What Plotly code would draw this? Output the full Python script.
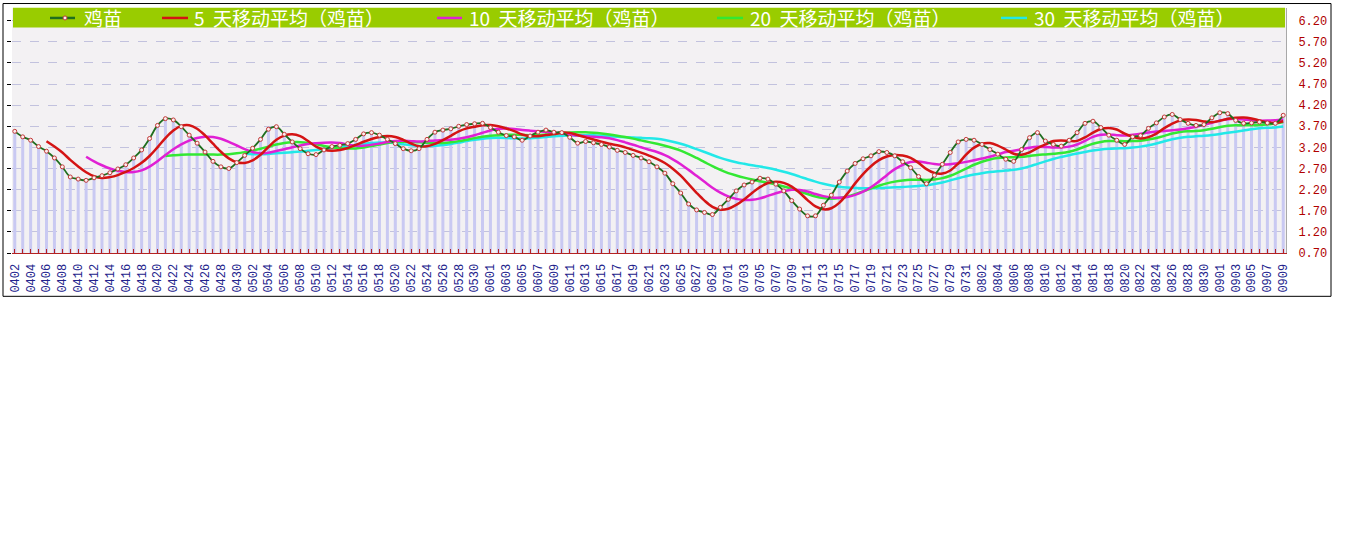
import pandas as pd
import plotly.graph_objects as go

# ---------------- data ----------------
dates = pd.date_range("2021-04-02", "2021-09-09", freq="D")
categories = [d.strftime("%m%d") for d in dates]

price = [
    3.58, 3.45, 3.37, 3.22, 3.11, 2.95, 2.74, 2.50, 2.45, 2.42,
    2.48, 2.53, 2.60, 2.69, 2.79, 2.95, 3.14, 3.41, 3.72, 3.88,
    3.85, 3.69, 3.49, 3.30, 3.09, 2.87, 2.74, 2.70, 2.84, 3.01,
    3.18, 3.39, 3.63, 3.69, 3.51, 3.33, 3.17, 3.05, 3.03, 3.14,
    3.22, 3.25, 3.29, 3.39, 3.52, 3.55, 3.49, 3.39, 3.29, 3.17,
    3.12, 3.17, 3.39, 3.56, 3.61, 3.64, 3.70, 3.74, 3.76, 3.77,
    3.67, 3.56, 3.48, 3.45, 3.37, 3.47, 3.56, 3.61, 3.56, 3.55,
    3.44, 3.30, 3.34, 3.31, 3.27, 3.21, 3.13, 3.08, 3.01, 2.95,
    2.86, 2.74, 2.59, 2.34, 2.12, 1.86, 1.72, 1.66, 1.61, 1.78,
    1.97, 2.17, 2.31, 2.38, 2.47, 2.45, 2.33, 2.17, 1.94, 1.74,
    1.58, 1.58, 1.83, 2.07, 2.38, 2.64, 2.82, 2.93, 3.00, 3.10,
    3.08, 3.00, 2.86, 2.72, 2.51, 2.34, 2.54, 2.80, 3.08, 3.33,
    3.39, 3.37, 3.27, 3.15, 3.04, 2.92, 2.87, 3.15, 3.43, 3.55,
    3.35, 3.27, 3.23, 3.37, 3.55, 3.77, 3.82, 3.67, 3.49, 3.37,
    3.27, 3.45, 3.48, 3.65, 3.78, 3.92, 3.98, 3.86, 3.77, 3.72,
    3.74, 3.90, 4.02, 4.00, 3.84, 3.77, 3.78, 3.80, 3.78, 3.77,
    3.96,
]
assert len(price) == len(categories)

ma_windows = [5, 10, 20, 30]
series_names = ["鸡苗", "5 天移动平均（鸡苗）", "10 天移动平均（鸡苗）",
                "20 天移动平均（鸡苗）", "30 天移动平均（鸡苗）"]
y_ticks = [0.70, 1.20, 1.70, 2.20, 2.70, 3.20, 3.70, 4.20, 4.70, 5.20, 5.70, 6.20]
y_ticktext = ["%.2f" % v for v in y_ticks]
x_ticktext = [c if i % 2 == 0 else "" for i, c in enumerate(categories)]

# ---------------- styles ----------------
ma_colors = ["#d41414", "#e020d4", "#33e833", "#22e8e8"]
main_color = "#1f6e1f"
W, H = 1345, 541
L, R, T, B = 12, 1286, 7.5, 253.5   # plot area in pixels

def px_x(x):
    return (x - L) / (R - L)

def px_y(y):
    return (B - y) / (B - T)

ps = pd.Series(price)
ma_values = [[None if pd.isna(v) else round(float(v), 4) for v in ps.rolling(n).mean()]
             for n in ma_windows]

fig = go.Figure()
fig.add_trace(go.Bar(x=categories, y=price, width=0.38, marker=dict(color="#c9c9f2", line=dict(width=0)),
                     showlegend=False, hoverinfo="skip"))
for n, vals, col, name in zip(ma_windows[::-1], ma_values[::-1], ma_colors[::-1], series_names[:0:-1]):
    fig.add_trace(go.Scatter(x=categories, y=vals, mode="lines", name=name,
                             line=dict(color=col, width=2.5, shape="spline", smoothing=1)))
fig.add_trace(go.Scatter(x=categories, y=price, mode="lines+markers", name=series_names[0],
                         line=dict(color=main_color, width=1.8, shape="spline", smoothing=1),
                         marker=dict(size=4, color="#fbeeee", line=dict(color="#c23a3a", width=1))))
# helper trace for right axis
fig.add_trace(go.Scatter(x=[categories[0]], y=[y_ticks[0]], yaxis="y2", mode="markers",
                         marker=dict(opacity=0), showlegend=False, hoverinfo="skip"))

shapes = []
# outer frame
shapes.append(dict(type="rect", xref="paper", yref="paper",
                   x0=px_x(3), x1=px_x(1331), y0=px_y(297), y1=px_y(3),
                   line=dict(color="black", width=1), fillcolor="rgba(0,0,0,0)", layer="above"))
# green legend bar
shapes.append(dict(type="rect", xref="paper", yref="paper",
                   x0=px_x(13), x1=px_x(1285), y0=px_y(27), y1=px_y(7.3),
                   line=dict(width=0), fillcolor="#99cc00", layer="above"))

legend_sym = [(50, 75), (162, 188), (437, 462), (717, 743), (1001, 1027)]
legend_txt_x = [82, 192, 467, 748, 1032]
legend_cols = [main_color] + ma_colors
annotations = []
ly = px_y(17.5)
for (a, b), tx, col, name in zip(legend_sym, legend_txt_x, legend_cols, series_names):
    shapes.append(dict(type="line", xref="paper", yref="paper", x0=px_x(a), x1=px_x(b),
                       y0=ly, y1=ly, line=dict(color=col, width=2.5), layer="above"))
    annotations.append(dict(xref="paper", yref="paper", x=px_x(tx), y=ly, text=name.replace(" ", "&nbsp;&nbsp;"),
                            showarrow=False, xanchor="left", yanchor="middle",
                            font=dict(family="Noto Sans CJK SC", size=19, color="white")))
# marker dot on first legend symbol
shapes.append(dict(type="circle", xref="paper", yref="paper",
                   x0=px_x(63), x1=px_x(67), y0=px_y(19.5), y1=px_y(15.5),
                   line=dict(color="#c23a3a", width=1), fillcolor="#fbeeee", layer="above"))

fig.update_layout(
    width=W, height=H,
    margin=dict(l=L, r=W - R, t=T, b=H - B, autoexpand=False),
    paper_bgcolor="white", plot_bgcolor="#f3f1f3",
    showlegend=False, shapes=shapes, annotations=annotations,
    hovermode=False,
    xaxis=dict(type="category", range=[-0.35, len(categories) - 1 + 0.35],
               tickmode="array", tickvals=categories, ticktext=x_ticktext,
               tickangle=-90, ticks="inside", ticklen=4, tickcolor="#b42222",
               showline=True, linecolor="#b42222", linewidth=1, showgrid=False,
               tickfont=dict(family="Liberation Mono", size=12, color="#23238c"),
               ticklabelstandoff=5),
    yaxis=dict(range=[0.70, 6.50], tickvals=y_ticks, showticklabels=False,
               ticks="outside", ticklen=4, tickcolor="black",
               showgrid=True, gridcolor="#c2c2de", griddash="dash", gridwidth=1,
               zeroline=False, showline=False),
    yaxis2=dict(range=[0.70, 6.50], overlaying="y", side="right",
                tickvals=y_ticks, ticktext=y_ticktext, ticks="",
                tickfont=dict(family="Liberation Mono", size=12, color="#b00000"),
                showgrid=False, zeroline=False, showline=True, linecolor="#a8a8a8",
                ticklabelstandoff=9),
)

fig.write_html("out.html", config={"displayModeBar": False},
               post_script="document.body.style.margin='0px';document.body.style.overflow='hidden';")
